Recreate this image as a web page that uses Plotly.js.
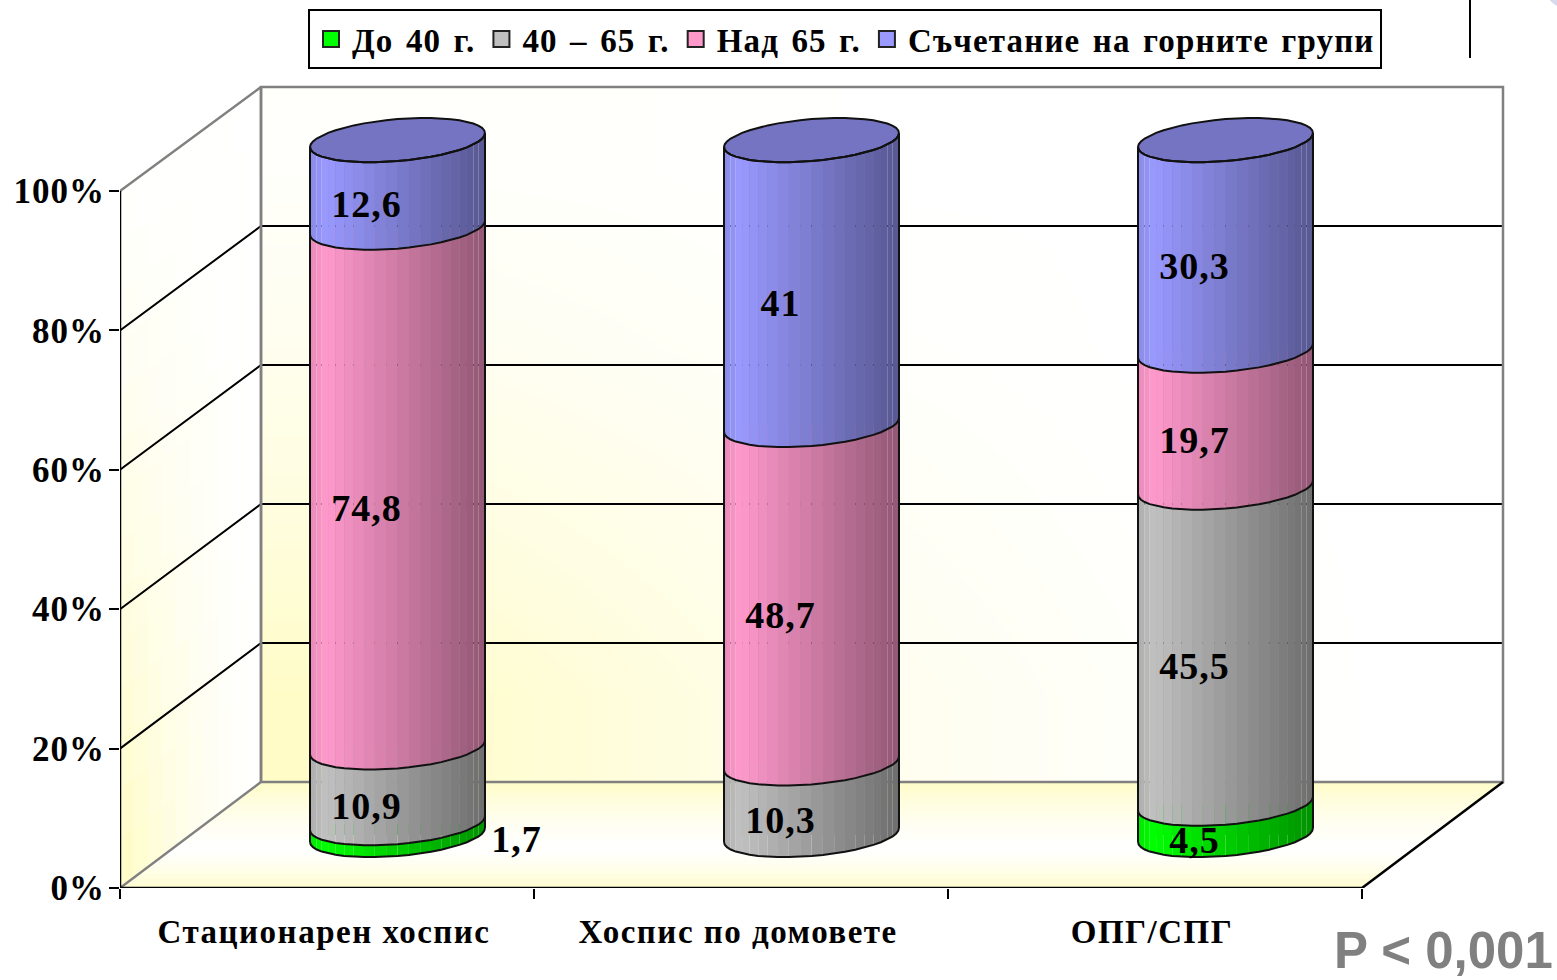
<!DOCTYPE html>
<html><head><meta charset="utf-8">
<script src="https://cdn.plot.ly/plotly-3.0.1.min.js"></script>
<style>html,body{margin:0;padding:0;background:#fff;overflow:hidden}
.legendtext{letter-spacing:1.15px;word-spacing:3px}
.xtick text{letter-spacing:1.5px}
.ytick text{letter-spacing:1px}
.textpoint text{letter-spacing:1px}
</style>
</head><body><div id="chart" style="width:1557px;height:980px"></div>
<script>
// ---- data ----
const categories = ['Стационарен хоспис', 'Хоспис по домовете', 'ОПГ/СПГ'];
const seriesNames = ['До 40 г.', '40 – 65 г.', 'Над 65 г.', 'Съчетание на горните групи'];
const under40 = [1.7, 0, 4.5];
const from40to65 = [10.9, 10.3, 45.5];
const over65 = [74.8, 48.7, 19.7];
const combined = [12.6, 41, 30.3];
const yTicks = [0, 20, 40, 60, 80, 100];
const yTickLabels = ['0%', '20%', '40%', '60%', '80%', '100%'];
const seriesColors = [[0,255,0],[192,192,192],[255,153,204],[153,153,255]];

// ---- plot geometry ----
const W = 1557, H = 980, mL = 120, mR = 47, mT = 80, mB = 92;
const pxX = 414, pxY = 6.97;
const xMax = (W-mL-mR)/pxX, yMax = (H-mT-mB)/pxY;
const DX = 141/pxX, DY = 106/pxY, backScale = 0.997;   // depth of the 3-D box
const A = 87.5/pxX, B = 21/pxY, S = 7/pxY;             // ellipse radii and tilt
const serieses = [under40, from40to65, over65, combined];
const YEL = [255,252,200];
const mix = (c,k)=>`rgb(${c.map(v=>Math.round(255+(v-255)*k)).join(',')})`;
const scale = (c,k)=>`rgb(${c.map(v=>Math.round(v*k)).join(',')})`;
const px2paperX = p => (p-mL)/(W-mL-mR), px2paperY = p => 1-(p-mT)/(H-mT-mB);

const traces = [];
// back wall gradient
const zW = [[1,.62,.3,.1,0],[.62,.4,.18,.04,0],[.3,.18,.06,0,0],[.08,.05,0,0,0]];
traces.push({type:'heatmap', z:zW, showscale:false, hoverinfo:'skip', zsmooth:'best',
  x:[0,1,2,3,4,5].map(i=>DX+i*3/5), y:[0,1,2,3,4].map(i=>DY+i*backScale*100/4),
  zmin:0, zmax:1, colorscale:[[0,'rgb(255,255,255)'],[1,mix(YEL,1)]]});

// real stacked values (core of each cylinder)
const cum = categories.map(()=>0);
serieses.forEach((vals,s)=>{
  traces.push({type:'bar', x:categories.map((_,i)=>i+.5+DX/2), y:vals,
    base:vals.map((v,i)=>DY/2+cum[i]*backScale), width:A*1.7, name:seriesNames[s],
    marker:{color:scale(seriesColors[s],.8)}, showlegend:false, hoverinfo:'skip'});
  vals.forEach((v,i)=>cum[i]+=v);
});

// back-wall grid and box edges
const gx=[],gy=[];
yTicks.slice(1,-1).forEach(v=>{gx.push(0,DX,3+DX,null);gy.push(v,DY+v*backScale,DY+v*backScale,null);});
const line=(x,y,c,w)=>({type:'scatter',mode:'lines',x,y,line:{color:c,width:w},showlegend:false,hoverinfo:'skip',cliponaxis:false});
const topY=DY+100*backScale;
traces.push(line(gx,gy,'#000',2));
traces.push(line([0,DX,DX,null,0,DX,3+DX,3+DX,DX,DX],[100,topY,DY,null,0,DY,DY,topY,topY,DY],'#808080',2.5));
traces.push(line([0,0,null,0,3,3+DX],[0,100,null,0,0,DY],'#000',2.5));

// cylinders
const N = 24;
const ptX = (c,t)=>c+A*Math.cos(t);
const ptY = (v,t)=>DY/2+v*backScale+S*Math.cos(t)+B*Math.sin(t);
categories.forEach((_,i)=>{
  const cx=i+.5+DX/2; let c0=0;
  const ox=[],oy=[];
  const arc=(v,from,to,n)=>{for(let k=0;k<=n;k++){const t=from+(to-from)*k/n;ox.push(ptX(cx,t));oy.push(ptY(v,t));}ox.push(null);oy.push(null);};
  arc(0,Math.PI,2*Math.PI,N);
  serieses.forEach((vals,s)=>{
    const v=vals[i]; if(!v) return;
    const c1=c0+v;
    for(let k=0;k<N;k++){
      const t1=Math.PI+Math.PI*k/N,t2=Math.PI+Math.PI*(k+1)/N;
      const u=(Math.cos((t1+t2)/2)+1)/2;
      const shade=u<.09?.9+u*1.1:1-(u-.09)/.91*.43;
      traces.push({type:'scatter',mode:'lines',fill:'toself',line:{width:0},
        fillcolor:scale(seriesColors[s],shade),showlegend:false,hoverinfo:'skip',
        x:[ptX(cx,t1),ptX(cx,t2),ptX(cx,t2),ptX(cx,t1),ptX(cx,t1)],
        y:[ptY(c0,t1),ptY(c0,t2),ptY(c1,t2),ptY(c1,t1),ptY(c0,t1)]});
    }
    arc(c1,Math.PI,2*Math.PI,N);
    c0=c1;
  });
  // cap
  const capX=[],capY=[];
  for(let k=0;k<=2*N;k++){const t=Math.PI*k/N;capX.push(ptX(cx,t));capY.push(ptY(c0,t));}
  traces.push({type:'scatter',mode:'lines',fill:'toself',x:capX,y:capY,fillcolor:scale(seriesColors[3],.76),
    line:{color:'#111',width:2},showlegend:false,hoverinfo:'skip'});
  ox.push(ptX(cx,Math.PI),ptX(cx,Math.PI),null,ptX(cx,0),ptX(cx,0));
  oy.push(ptY(0,Math.PI),ptY(c0,Math.PI),null,ptY(0,0),ptY(c0,0));
  traces.push(line(ox,oy,'#111',2));
});

// value labels
const lblX=[],lblY=[],lblT=[];
const fmt=v=>String(v).replace('.',',');
categories.forEach((_,i)=>{
  let c0=0;
  serieses.forEach(vals=>{
    const v=vals[i]; if(!v){return;}
    const mid=c0+v/2; c0+=v;
    const outside = v<2;
    lblX.push(i+.5+DX/2+(outside?119:-31)/pxX);
    lblY.push(DY/2+mid*backScale-(outside?13:24)/pxY);
    lblT.push(fmt(v));
  });
});
traces.push({type:'scatter',mode:'text',x:lblX,y:lblY,text:lblT,textposition:'middle center',
  textfont:{family:'Liberation Serif',size:38,color:'#000',weight:700},showlegend:false,hoverinfo:'skip',cliponaxis:false});

// legend entries
seriesNames.forEach((n,s)=>traces.push({type:'scatter',mode:'markers',x:[null],y:[null],name:n,
  marker:{symbol:'square',size:16,color:mix(seriesColors[s],1),line:{color:'#222',width:2}},hoverinfo:'skip'}));

// wall and floor shapes
const shapes=[];
const poly=(pts,col)=>shapes.push({type:'path',xref:'x',yref:'y',layer:'below',fillcolor:col,line:{color:col,width:1},
  path:'M'+pts.map(p=>p[0]+','+p[1]).join('L')+'Z'});
const NU=10,NV=14;
for(let a=0;a<NU;a++)for(let b=0;b<NV;b++){
  const u0=a/NU,u1=(a+1)/NU,v0=b/NV,v1=(b+1)/NV;
  const uu=(u0+u1)/2,vv=(v0+v1)/2;
  const k=Math.pow(1-uu,1.5)*Math.pow(1-vv,1.15)*1.05+0.03*(1-uu);
  const P=(u,v)=>[DX*u,DY*u+100*v*(1-(1-backScale)*u)];
  poly([P(u0,v0),P(u1,v0),P(u1,v1),P(u0,v1)],mix(YEL,Math.min(1,k)));
}
const NF=22;
for(let b=0;b<NF;b++){
  const t0=b/NF,t1=(b+1)/NF,t=(t0+t1)/2;
  const k=t<.35?(.35-t)/.35*.85:Math.pow((t-.35)/.65,1.5);
  poly([[DX*t0,DY*t0],[3+DX*t0,DY*t0],[3+DX*t1,DY*t1],[DX*t1,DY*t1]],mix(YEL,k));
}
// slide furniture
shapes.push({type:'line',xref:'paper',yref:'paper',x0:px2paperX(1470),x1:px2paperX(1470),y0:px2paperY(58),y1:px2paperY(-2),line:{color:'#000',width:2}});
shapes.push({type:'circle',xref:'paper',yref:'paper',x0:px2paperX(1542),x1:px2paperX(1602),y0:px2paperY(10),y1:px2paperY(-50),fillcolor:'#d9d9f0',line:{width:0}});

const layout={
  width:W,height:H,margin:{l:mL,r:mR,t:mT,b:mB,pad:0,autoexpand:false},paper_bgcolor:'#fff',plot_bgcolor:'rgba(0,0,0,0)',
  barmode:'overlay',showlegend:true,shapes,
  xaxis:{range:[0,xMax],tickmode:'array',tickvals:[.4928,1.4928,2.4928],ticktext:categories,showgrid:false,zeroline:false,showline:false,automargin:false,
    ticks:'',ticklen:0,ticklabelstandoff:21,tickfont:{family:'Liberation Serif',size:33,color:'#000',weight:700},
    minor:{tickmode:'array',tickvals:[0,1,2,3],ticks:'outside',ticklen:10,tickwidth:2,tickcolor:'#000',showgrid:false}},
  yaxis:{range:[0,yMax],tickmode:'array',tickvals:yTicks,ticktext:yTickLabels,showgrid:false,zeroline:false,showline:false,automargin:false,
    ticks:'outside',ticklen:10,tickwidth:2,tickcolor:'#000',ticklabelstandoff:-3,tickfont:{family:'Liberation Serif',size:35,color:'#000',weight:700}},
  legend:{orientation:'h',x:px2paperX(308),y:px2paperY(9),xanchor:'left',yanchor:'top',bgcolor:'#fff',bordercolor:'#000',borderwidth:2,itemwidth:32,
    font:{family:'Liberation Serif',size:33,color:'#000',weight:700}},
  annotations:[{xref:'paper',yref:'paper',x:px2paperX(1332),y:px2paperY(950),xanchor:'left',yanchor:'middle',showarrow:false,text:'P < 0,001',
    font:{family:'Liberation Sans',size:51,color:'#808080',weight:700}}]
};
Plotly.newPlot('chart',traces,layout,{displayModeBar:false,responsive:false});
</script></body></html>
